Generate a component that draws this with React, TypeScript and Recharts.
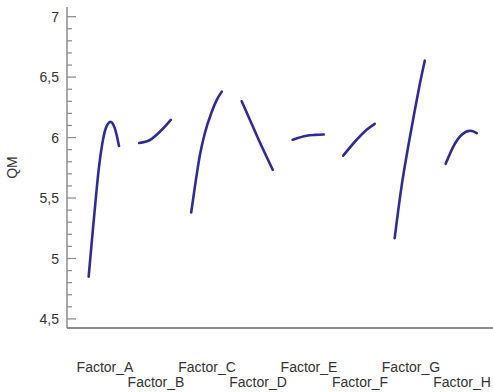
import React from 'react';
import { LineChart, Line, XAxis, YAxis } from 'recharts';

// factor names along the x axis
const factors = ['Factor_A', 'Factor_B', 'Factor_C', 'Factor_D', 'Factor_E', 'Factor_F', 'Factor_G', 'Factor_H'];

// each curve: [offset from factor position, QM]
const factorA = [[-0.32, 4.85], [-0.25, 5.18], [-0.18, 5.5], [-0.12, 5.75], [-0.053, 5.95], [0.014, 6.075], [0.11, 6.13], [0.19, 6.08], [0.275, 5.93]];
const factorB = [[-0.33, 5.955], [-0.12, 5.98], [0.08, 6.05], [0.29, 6.147]];
const factorC = [[-0.31, 5.38], [-0.235, 5.6], [-0.137, 5.86], [-0.04, 6.04], [0.09, 6.21], [0.19, 6.31], [0.29, 6.38]];
const factorD = [[-0.32, 6.3], [-0.12, 6.11], [0.07, 5.93], [0.29, 5.733]];
const factorE = [[-0.32, 5.982], [-0.045, 6.015], [0.12, 6.022], [0.29, 6.026]];
const factorF = [[-0.33, 5.85], [-0.07, 5.98], [0.13, 6.065], [0.29, 6.114]];
const factorG = [[-0.32, 5.168], [-0.19, 5.582], [-0.06, 5.913], [0.07, 6.216], [0.17, 6.437], [0.27, 6.636]];
const factorH = [[-0.32, 5.783], [-0.17, 5.926], [-0.006, 6.023], [0.16, 6.056], [0.29, 6.037]];

const curves = [factorA, factorB, factorC, factorD, factorE, factorF, factorG, factorH];

// y ticks every 0.1, labelled every 0.5
const yTicks = [45, 46, 47, 48, 49, 50, 51, 52, 53, 54, 55, 56, 57, 58, 59, 60, 61, 62, 63, 64, 65, 66, 67, 68, 69, 70].map(v => v / 10);
const yMajor = [4.5, 5, 5.5, 6, 6.5, 7];
const xTicks = factors.map((_, i) => i);

const FONT = '"Liberation Sans", Arial, sans-serif';
const AXIS = '#7a7a7a';
const LINE = '#2e2d98';

const fmt = (v: number) => String(v).replace('.', ',');

const LeftTick = (props: any) => {
  const { x, y, payload } = props;
  const v = payload.value;
  const major = Math.round(v * 10) % 5 === 0;
  return (
    <g>
      <line x1={x} y1={y} x2={x + (major ? 9 : 5)} y2={y} stroke="#8a8a8a" strokeWidth={1.2} />
      {major && (
        <text x={x - 8} y={y} dy="0.36em" textAnchor="end" fontSize={14} fontFamily={FONT} fill="#333">
          {fmt(v)}
        </text>
      )}
    </g>
  );
};

const RightTick = (props: any) => {
  const { x, y } = props;
  return <line x1={x - 4} y1={y} x2={x} y2={y} stroke="#8a8a8a" strokeWidth={1.2} />;
};

const BottomTick = (props: any) => {
  const { x, y, payload } = props;
  const i = payload.value;
  return (
    <text x={x} y={y + (i % 2 === 0 ? 44 : 59)} textAnchor="middle" fontSize={14} fontFamily={FONT} fill="#333">
      {factors[i]}
    </text>
  );
};

const QMLabel = (props: any) => {
  const vb = props.viewBox || {};
  const cy = vb.height ? vb.y + vb.height / 2 : 168;
  return (
    <text x={12} y={cy} transform={`rotate(-90, 12, ${cy})`} dy="0.36em" textAnchor="middle" fontSize={14} fontFamily={FONT} fill="#333">
      QM
    </text>
  );
};

export default function App() {
  return (
    <div style={{ position: 'fixed', left: 0, top: 0, width: 493, height: 392, background: '#fff', overflow: 'hidden' }}>
      <LineChart width={493} height={392} margin={{ top: 7, right: 0, bottom: 0, left: 0 }}>
        <XAxis
          xAxisId="bottom"
          type="number"
          dataKey="x"
          domain={[-0.745, 7.608]}
          ticks={xTicks}
          interval={0}
          height={64}
          tickSize={0}
          tickMargin={0}
          tickLine={false}
          axisLine={{ stroke: '#666', strokeWidth: 1.3 }}
          tick={<BottomTick />}
          allowDataOverflow
        />
        <XAxis
          xAxisId="top"
          orientation="top"
          type="number"
          dataKey="x"
          domain={[-0.745, 7.608]}
          height={0}
          tick={false}
          tickLine={false}
          axisLine={{ stroke: AXIS, strokeWidth: 1.3 }}
          allowDataOverflow
        />
        <YAxis
          yAxisId="left"
          type="number"
          domain={[4.425, 7.08]}
          ticks={yTicks}
          interval={0}
          width={67}
          tickSize={0}
          tickMargin={0}
          tickLine={false}
          axisLine={{ stroke: AXIS, strokeWidth: 1.3 }}
          tick={<LeftTick />}
          label={<QMLabel />}
          allowDataOverflow
        />
        <YAxis
          yAxisId="right"
          orientation="right"
          type="number"
          domain={[4.425, 7.08]}
          ticks={yMajor}
          interval={0}
          width={0}
          tickSize={0}
          tickMargin={0}
          tickLine={false}
          axisLine={false}
          tick={<RightTick />}
          allowDataOverflow
        />
        {curves.map((pts, i) => (
          <Line
            key={factors[i]}
            xAxisId="bottom"
            yAxisId="left"
            data={pts.map(([t, qm]) => ({ x: i + t, qm }))}
            dataKey="qm"
            type="monotone"
            stroke={LINE}
            strokeWidth={2.6}
            strokeLinecap="round"
            dot={false}
            activeDot={false}
            isAnimationActive={false}
          />
        ))}
      </LineChart>
    </div>
  );
}
